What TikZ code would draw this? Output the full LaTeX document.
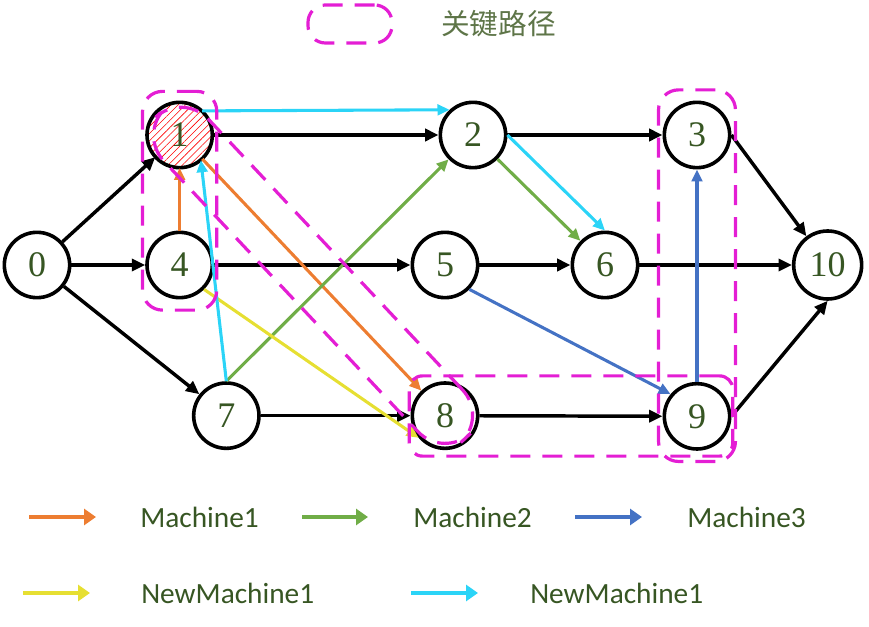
\documentclass[tikz,border=0pt]{standalone}
\usepackage{fontspec}
\setmainfont{Liberation Serif}
\newfontfamily\legfont{Carlito}
\newfontfamily\cjkfont{Noto Sans CJK SC}
\usepackage{xcolor}
\usetikzlibrary{arrows.meta, positioning, fit, patterns.meta}
\definecolor{lblgreen}{HTML}{375623}
\definecolor{ttlgreen}{HTML}{5E7548}
\definecolor{critmag}{RGB}{228,30,212}
\definecolor{mOrange}{HTML}{ED7D31}
\definecolor{mGreen}{HTML}{70AD47}
\definecolor{mBlue}{HTML}{4472C4}
\definecolor{mYellow}{HTML}{E6DF32}
\definecolor{mCyan}{HTML}{2BD4F7}

\begin{document}
\begin{tikzpicture}[x=0.75pt, y=-0.75pt, on grid, >={Triangle[length=10pt,width=9pt]}, font=\fontsize{27}{30}\selectfont]
\tikzstyle{vtx}=[draw, circle, line width=2.7pt, minimum size=49pt, inner sep=0pt, text=lblgreen, fill=white]
\tikzstyle{edge}=[->, line width=2.6pt]
\tikzstyle{job}=[->, line width=2.3pt, >={Triangle[length=9pt,width=8pt]}]
\tikzstyle{crit}=[draw=critmag, dash pattern=on 15pt off 9pt, line width=2.4pt, rounded corners=15pt]
\tikzstyle{leg}=[->, line width=3.5pt, >={Triangle[length=9pt,width=12pt]}]
\tikzstyle{legtxt}=[anchor=west, inner sep=0pt, text=lblgreen, font=\legfont\fontsize{22}{25}\selectfont]
\useasboundingbox (0,0) rectangle (869,627);

\node[vtx] (n0) at (37,265) {0};
\node[vtx, right=107pt of n0] (n4) {4};
\node[vtx, above=97.5pt of n4, pattern={Lines[angle=45, distance=3.8pt, line width=0.45pt]}, pattern color=red] (n1) {1};
\node[vtx, below right=113pt and 35pt of n4] (n7) {7};
\node[vtx, right=199pt of n4] (n5) {5};
\node[vtx, right=220pt of n1] (n2) {2};
\node[vtx, below=113pt of n5] (n8) {8};
\node[vtx, right=120pt of n5] (n6) {6};
\node[vtx, right=168pt of n2] (n3) {3};
\node[vtx, below=211pt of n3] (n9) {9};
\node[vtx, right=167pt of n6, minimum size=51pt] (n10) {10};

\draw[edge] (n0) -- (n1);
\draw[edge] (n0) -- (n4);
\draw[edge] (n0) -- (n7);
\draw[edge] (n1) -- (n2);
\draw[edge] (n4) -- (n5);
\draw[edge] (n7) -- (n8);
\draw[edge] (n2) -- (n3);
\draw[edge] (n5) -- (n6);
\draw[edge] (n8) -- (n9);
\draw[edge] (n3.east) -- (n10);
\draw[edge] (n6) -- (n10);
\draw[edge] (n9.east) -- (n10.south);

% machine jobs
\draw[job, mOrange] (n4) -- (n1);
\draw[job, mOrange] (n1) -- (n8);
\draw[job, mGreen] (n7.north) -- (n2);
\draw[job, mGreen] (n2) -- (n6);
\draw[job, mBlue] (n5.-45) -- (n9.140);
\draw[job, mBlue] (n9) -- (n3);
\draw[job, mYellow] (n4.-45) -- (n8.220);
\draw[job, mCyan] (n1.47) -- (n2.133);
\draw[job, mCyan] (n2.east) -- (n6.north);
\draw[job, mCyan] (n7.north) -- (n1.-50);

% critical path
\node[crit, fit=(n1)(n4), inner xsep=2pt, inner ysep=8pt] (g14) {};
\node[crit, rotate fit=-46.8, fit=(n1)(n8), inner sep=4pt, rounded corners=28pt] (g18) {};
\node[crit, fit=(n8)(n9), inner xsep=1pt, inner ysep=4pt, rounded corners=10pt] (g89) {};
\node[crit, fit=(n3)(n9), inner xsep=3pt, inner ysep=8pt] (g39) {};

\node[crit, minimum width=63pt, minimum height=28.5pt, rounded corners=13pt] (keybox) at (350,24) {};
\node[anchor=west, inner sep=0pt, text=ttlgreen, font=\cjkfont\fontsize{21.5}{24}\selectfont] (keytxt) at (441,24) {关键路径};

% legend
\coordinate (o1) at (29,517); \coordinate (o2) at (96,517);
\draw[leg, mOrange] (o1) -- (o2);
\node[legtxt] (t1) at (140,517) {Machine1};
\coordinate (g1) at (302,517); \coordinate (g2) at (368,517);
\draw[leg, mGreen] (g1) -- (g2);
\node[legtxt] (t2) at (413,517) {Machine2};
\coordinate (b1) at (575,517); \coordinate (b2) at (642,517);
\draw[leg, mBlue] (b1) -- (b2);
\node[legtxt] (t3) at (687,517) {Machine3};
\coordinate (y1) at (23,593); \coordinate (y2) at (90,593);
\draw[leg, mYellow] (y1) -- (y2);
\node[legtxt] (t4) at (141,593) {NewMachine1};
\coordinate (c1) at (411,593); \coordinate (c2) at (478,593);
\draw[leg, mCyan] (c1) -- (c2);
\node[legtxt] (t5) at (530,593) {NewMachine1};
\end{tikzpicture}
\end{document}
